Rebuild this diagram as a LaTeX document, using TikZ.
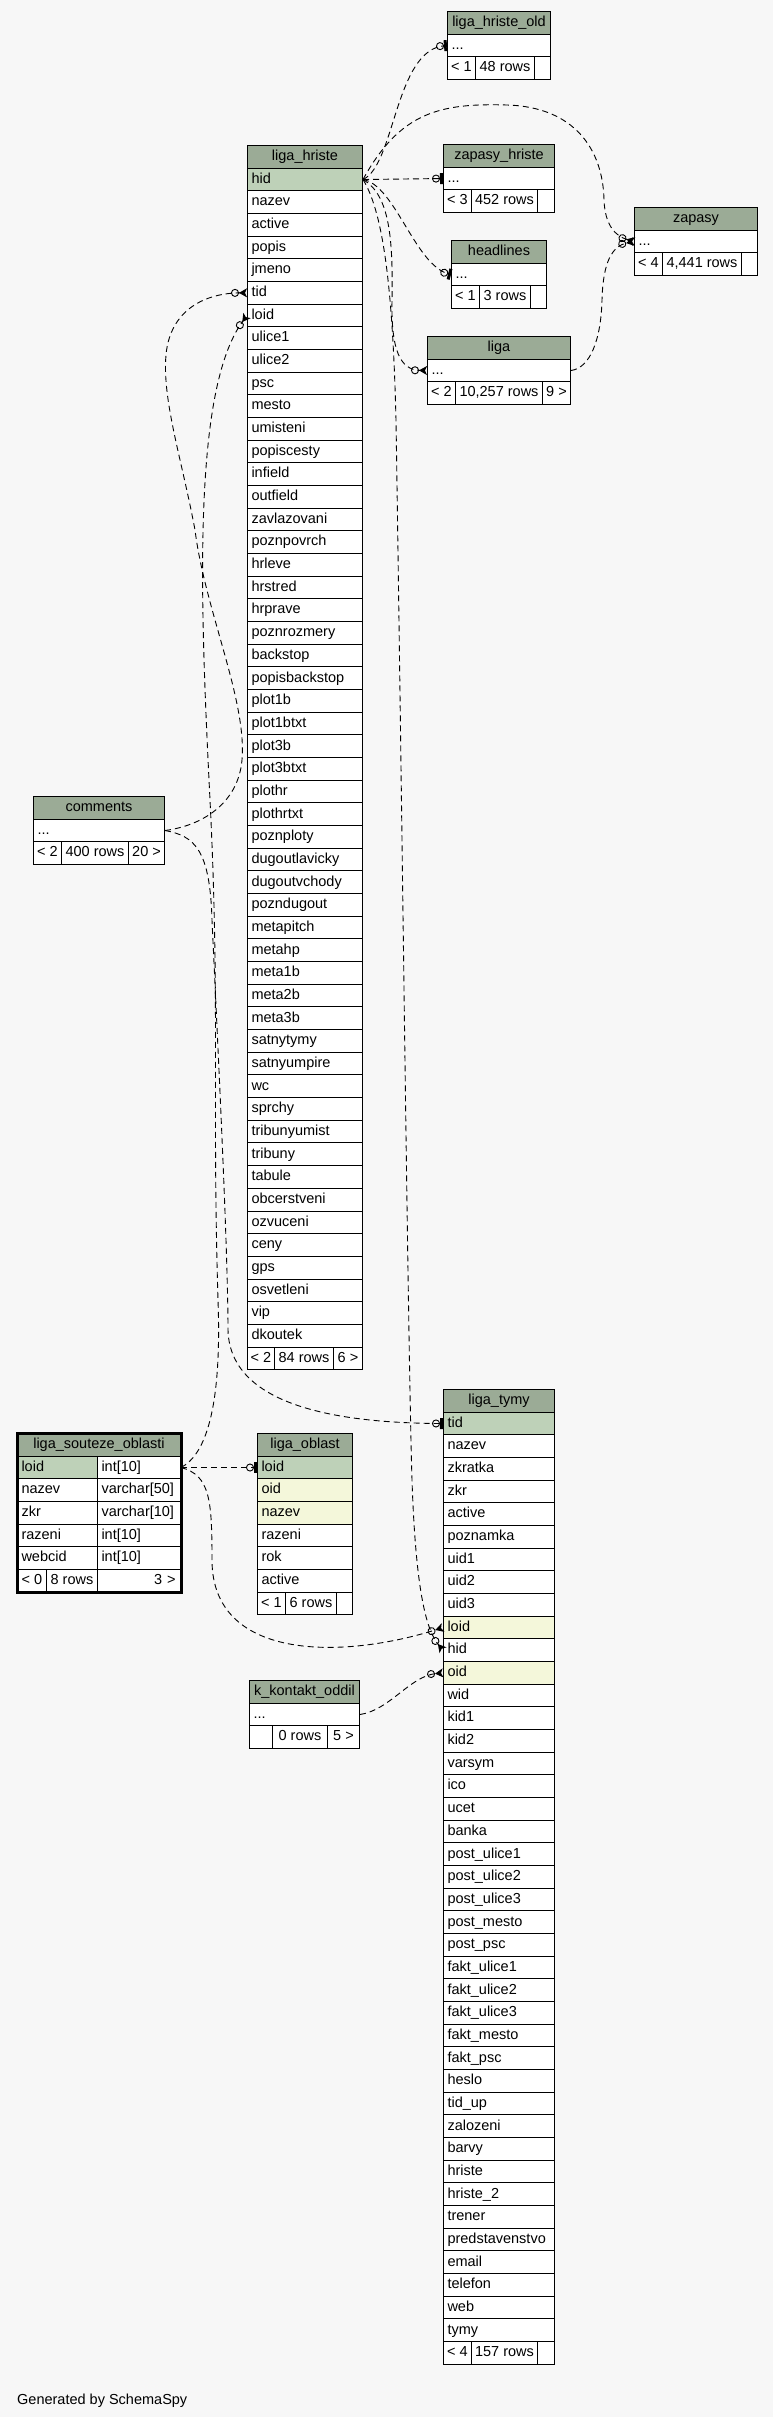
\documentclass[tikz,border=0pt]{standalone}
\usepackage{fontspec}
\setmainfont{Liberation Sans}
\usepackage{tikz}
\usetikzlibrary{arrows.meta, positioning}

\definecolor{bgcol}{HTML}{F7F7F7}
\definecolor{headcol}{HTML}{9BAB96}
\definecolor{keycol}{HTML}{BED1B8}
\definecolor{idxcol}{HTML}{F4F7DA}

\begin{document}
\begin{tikzpicture}[
        x=1pt, y=-1pt,
        font=\fontsize{14.5}{17}\selectfont,
        cell/.style={draw=black, line width=1pt, fill=white, anchor=north west, minimum height=22.67pt, inner ysep=0pt, text height=10.5pt, text depth=3pt},
        head/.style={cell, fill=headcol, minimum width=#1, inner xsep=2pt},
        col/.style={cell, text width=#1, inner xsep=4pt, align=left},
        foot/.style={cell, minimum width=#1, inner xsep=2pt},
        key/.style={fill=keycol},
        idx/.style={fill=idxcol},
        fk/.style={dash pattern=on 6pt off 4pt, line width=0.9pt},
        one/.style={fk, -{Circle[open, length=8pt] Rectangle[length=3pt, width=11pt]}},
        many/.style={fk, -{Circle[open, length=8pt] Stealth[reversed, length=8pt, width=9pt, inset=2pt]}}
    ]
        \fill[bgcol] (0,0) rectangle (773,2417);

        % liga_hriste
        \node[head=115pt] (lh) at (247,145) {liga\_hriste};
        \node[col=107pt, key] (lh1) at (247,{145+22.67}) {hid};
        \foreach \c [count=\i from 2] in {nazev, active, popis, jmeno, tid, loid, ulice1, ulice2, psc, mesto, umisteni, popiscesty, infield, outfield, zavlazovani, poznpovrch, hrleve, hrstred, hrprave, poznrozmery, backstop, popisbackstop, plot1b, plot1btxt, plot3b, plot3btxt, plothr, plothrtxt, poznploty, dugoutlavicky, dugoutvchody, pozndugout, metapitch, metahp, meta1b, meta2b, meta3b, satnytymy, satnyumpire, wc, sprchy, tribunyumist, tribuny, tabule, obcerstveni, ozvuceni, ceny, gps, osvetleni, vip, dkoutek}
            \node[col=107pt] (lh\i) at (247,{145+22.67*\i}) {\c};
        \node[foot=27pt] (lhf1) at (247,{145+22.67*53}) {< 2};
        \node[foot=59pt] (lhf2) at (274,{145+22.67*53}) {84 rows};
        \node[foot=29pt] (lhf3) at (333,{145+22.67*53}) {6 >};

        % liga_hriste_old
        \node[head=103pt] (lho) at (447,11) {liga\_hriste\_old};
        \node[col=95pt] (lho1) at (447,33.67) {...};
        \node[foot=28pt] (lhof1) at (447,56.33) {< 1};
        \node[foot=59pt] (lhof2) at (475,56.33) {48 rows};
        \node[foot=16pt] (lhof3) at (534,56.33) {};

        % zapasy_hriste
        \node[head=111pt] (zh) at (443,144) {zapasy\_hriste};
        \node[col=103pt] (zh1) at (443,166.67) {...};
        \node[foot=28pt] (zhf1) at (443,189.33) {< 3};
        \node[foot=66pt] (zhf2) at (471,189.33) {452 rows};
        \node[foot=17pt] (zhf3) at (537,189.33) {};

        % headlines
        \node[head=95pt] (hl) at (451,240) {headlines};
        \node[col=87pt] (hl1) at (451,262.67) {...};
        \node[foot=28pt] (hlf1) at (451,285.33) {< 1};
        \node[foot=51pt] (hlf2) at (479,285.33) {3 rows};
        \node[foot=16pt] (hlf3) at (530,285.33) {};

        % liga
        \node[head=143pt] (lg) at (427,336) {liga};
        \node[col=135pt] (lg1) at (427,358.67) {...};
        \node[foot=28pt] (lgf1) at (427,381.33) {< 2};
        \node[foot=87pt] (lgf2) at (455,381.33) {10,257 rows};
        \node[foot=28pt] (lgf3) at (542,381.33) {9 >};

        % zapasy
        \node[head=123pt] (zp) at (634,207) {zapasy};
        \node[col=115pt] (zp1) at (634,229.67) {...};
        \node[foot=28pt] (zpf1) at (634,252.33) {< 4};
        \node[foot=79pt] (zpf2) at (662,252.33) {4,441 rows};
        \node[foot=16pt] (zpf3) at (741,252.33) {};

        % comments
        \node[head=131pt] (cm) at (33,796) {comments};
        \node[col=123pt] (cm1) at (33,818.67) {...};
        \node[foot=28pt] (cmf1) at (33,841.33) {< 2};
        \node[foot=67pt] (cmf2) at (61,841.33) {400 rows};
        \node[foot=36pt] (cmf3) at (128,841.33) {20 >};

        % liga_souteze_oblasti
        \node[head=163pt] (lso) at (17,1433) {liga\_souteze\_oblasti};
        \node[col=72pt, key] (lso1) at (17,{1433+22.67}) {loid};
        \node[col=75pt] (lsot1) at (97,{1433+22.67}) {int[10]};
        \foreach \c/\t [count=\i from 2] in {nazev/varchar[50], zkr/varchar[10], razeni/int[10], webcid/int[10]} {
            \node[col=72pt] (lso\i) at (17,{1433+22.67*\i}) {\c};
            \node[col=75pt] (lsot\i) at (97,{1433+22.67*\i}) {\t};
        }
        \node[foot=29pt] (lsof1) at (17,{1433+22.67*6}) {< 0};
        \node[foot=51pt] (lsof2) at (46,{1433+22.67*6}) {8 rows};
        \node[foot=83pt, text width=73pt, inner xsep=5pt, align=right] (lsof3) at (97,{1433+22.67*6}) {3 >};
        \draw[line width=3pt] (lso.north west) rectangle (lsof3.south east);

        % liga_oblast
        \node[head=95pt] (lo) at (257,1433) {liga\_oblast};
        \node[col=87pt, key] (lo1) at (257,{1433+22.67}) {loid};
        \node[col=87pt, idx] (lo2) at (257,{1433+22.67*2}) {oid};
        \node[col=87pt, idx] (lo3) at (257,{1433+22.67*3}) {nazev};
        \foreach \c [count=\i from 4] in {razeni, rok, active}
            \node[col=87pt] (lo\i) at (257,{1433+22.67*\i}) {\c};
        \node[foot=28pt] (lof1) at (257,{1433+22.67*7}) {< 1};
        \node[foot=51pt] (lof2) at (285,{1433+22.67*7}) {6 rows};
        \node[foot=16pt] (lof3) at (336,{1433+22.67*7}) {};

        % k_kontakt_oddil
        \node[head=110pt] (kk) at (249,1680) {k\_kontakt\_oddil};
        \node[col=102pt] (kk1) at (249,1702.67) {...};
        \node[foot=23pt] (kkf1) at (249,1725.33) {};
        \node[foot=55pt] (kkf2) at (272,1725.33) {0 rows};
        \node[foot=32pt] (kkf3) at (327,1725.33) {5 >};

        % liga_tymy
        \node[head=111pt] (ty) at (443,1389) {liga\_tymy};
        \node[col=103pt, key] (ty1) at (443,{1389+22.67}) {tid};
        \foreach \c [count=\i from 2] in {nazev, zkratka, zkr, active, poznamka, uid1, uid2, uid3}
            \node[col=103pt] (ty\i) at (443,{1389+22.67*\i}) {\c};
        \node[col=103pt, idx] (ty10) at (443,{1389+22.67*10}) {loid};
        \node[col=103pt] (ty11) at (443,{1389+22.67*11}) {hid};
        \node[col=103pt, idx] (ty12) at (443,{1389+22.67*12}) {oid};
        \foreach \c [count=\i from 13] in {wid, kid1, kid2, varsym, ico, ucet, banka, post\_ulice1, post\_ulice2, post\_ulice3, post\_mesto, post\_psc, fakt\_ulice1, fakt\_ulice2, fakt\_ulice3, fakt\_mesto, fakt\_psc, heslo, tid\_up, zalozeni, barvy, hriste, hriste\_2, trener, predstavenstvo, email, telefon, web, tymy}
            \node[col=103pt] (ty\i) at (443,{1389+22.67*\i}) {\c};
        \node[foot=28pt] (tyf1) at (443,{1389+22.67*42}) {< 4};
        \node[foot=66pt] (tyf2) at (471,{1389+22.67*42}) {157 rows};
        \node[foot=17pt] (tyf3) at (537,{1389+22.67*42}) {};

        \node[anchor=base west, inner sep=0pt] (gen) at (17,2404) {Generated by SchemaSpy};

        % Relationships
        \draw[one] (lh1.east) .. controls (395,165) and (395,50) .. (lho1.west);
        \draw[one] (lh1.east) -- (zh1.west);
        \draw[one] (lh1.east) .. controls (395,185) and (415,265) .. (hl1.west);
        \draw[many] (lh1.east) .. controls (390,195) and (393,240) .. (392,300) .. controls (391,350) and (400,370) .. (lg1.west);
        \draw[many] (lh1.east) .. controls (400,112) and (440,103) .. (507,105) .. controls (575,107) and (603,150) .. (604,200) .. controls (605,225) and (615,236) .. (zp1.west);
        \draw[many] (lh1.east) .. controls (385,215) and (393,300) .. (396,420) .. controls (402,800) and (408,1350) .. (412,1480) .. controls (416,1600) and (428,1632) .. (ty11.west);
        \draw[many] (lg1.east) .. controls (590,368) and (601,340) .. (602,300) .. controls (603,262) and (612,246) .. (zp1.west);
        \draw[many] (cm1.east) .. controls (200,826) and (238,805) .. (242,760) .. controls (247,700) and (205,610) .. (195,530) .. controls (182,460) and (162,400) .. (166,355) .. controls (170,310) and (205,293) .. (lh6.west);
        \draw[one] (cm1.east) .. controls (195,836) and (210,850) .. (212,920) .. controls (218,1050) and (228,1250) .. (228,1330) .. controls (230,1410) and (350,1423) .. (ty1.west);
        \draw[one] (lsot1.east) -- (lo1.west);
        \draw[many] (lsot1.east) .. controls (205,1455) and (222,1410) .. (218,1300) .. controls (212,1100) and (220,1000) .. (210,800) .. controls (200,600) and (192,390) .. (lh7.west);
        \draw[many] (lsot1.east) .. controls (210,1475) and (212,1500) .. (212,1560) .. controls (212,1660) and (340,1660) .. (ty10.west);
        \draw[many] (kk1.east) .. controls (390,1710) and (410,1676) .. (ty12.west);
    \end{tikzpicture}
\end{document}
